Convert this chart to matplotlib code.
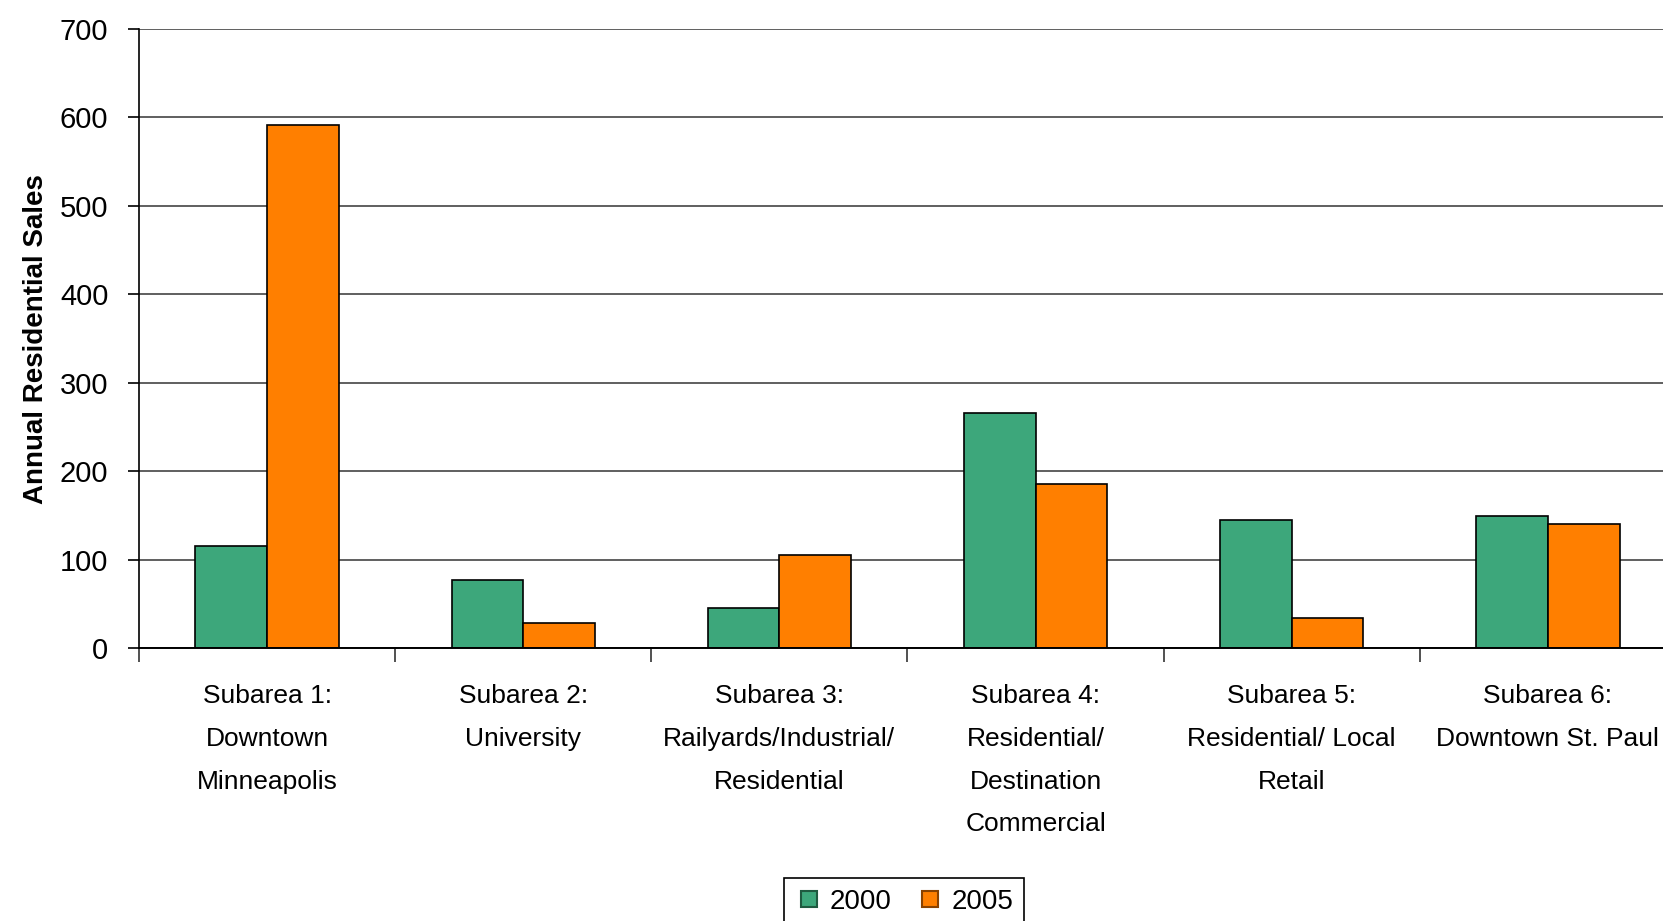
import numpy as np
import matplotlib
matplotlib.use('Agg')
import matplotlib.pyplot as plt
from matplotlib.lines import Line2D

plt.rcParams['font.family'] = ['Liberation Sans', 'DejaVu Sans']

categories = [
    'Subarea 1:\nDowntown\nMinneapolis',
    'Subarea 2:\nUniversity',
    'Subarea 3:\nRailyards/Industrial/\nResidential',
    'Subarea 4:\nResidential/\nDestination\nCommercial',
    'Subarea 5:\nResidential/ Local\nRetail',
    'Subarea 6:\nDowntown St. Paul',
]
sales_2000 = [116, 77, 45, 266, 145, 149]
sales_2005 = [591, 29, 106, 186, 34, 141]
yticks = [0, 100, 200, 300, 400, 500, 600, 700]

GREEN = '#3DA77B'
ORANGE = '#FF7F00'

fig = plt.figure(figsize=(16.63, 9.21), dpi=100)
ax = fig.add_axes([0.0836, 0.2961, 0.9242, 0.6724])

x = np.arange(len(categories)) + 0.5
w = 0.28
ax.bar(x - w / 2, sales_2000, width=w, color=GREEN, edgecolor='black', linewidth=1.2, zorder=3)
ax.bar(x + w / 2, sales_2005, width=w, color=ORANGE, edgecolor='black', linewidth=1.2, zorder=3)

ax.set_xlim(0, len(categories))
ax.set_ylim(0, 700)
ax.set_yticks(yticks)
ax.set_yticklabels([str(v) for v in yticks], fontsize=21)
ax.yaxis.grid(True, color='#444444', linewidth=1.2, zorder=0)

# boundaries get the tick marks, centres carry the labels
ax.set_xticks(np.arange(len(categories) + 1))
ax.set_xticklabels([])
ax.set_xticks(x, minor=True)
ax.set_xticklabels(categories, minor=True, fontsize=19, linespacing=1.98)
ax.tick_params(axis='x', which='minor', length=0, pad=26)
ax.tick_params(axis='x', which='major', length=10, width=1.2, color='#333333')
ax.tick_params(axis='y', length=8, width=1.2, pad=14)

for s in ['top', 'right']:
    ax.spines[s].set_visible(False)
ax.spines['left'].set_linewidth(1.2)
ax.spines['bottom'].set_linewidth(1.4)
ax.spines['bottom'].set_zorder(4)

ax.set_ylabel('Annual Residential Sales', fontsize=20, fontweight='bold', labelpad=8)

handles = [
    Line2D([], [], marker='s', linestyle='none', markersize=12,
           markerfacecolor=GREEN, markeredgecolor='#1F5A40', markeredgewidth=1.5, label='2000'),
    Line2D([], [], marker='s', linestyle='none', markersize=12,
           markerfacecolor=ORANGE, markeredgecolor='#8A4200', markeredgewidth=1.5, label='2005'),
]
leg = fig.legend(handles=handles, loc='upper center', bbox_to_anchor=(0.5436, 0.047),
                 ncol=2, fontsize=20, frameon=True, fancybox=False, framealpha=1,
                 edgecolor='black', handletextpad=0.25, columnspacing=0.9,
                 borderpad=0.4, borderaxespad=0, handlelength=1.0)
leg.get_frame().set_linewidth(1.2)

fig.savefig('out.png', dpi=100, facecolor='white')
